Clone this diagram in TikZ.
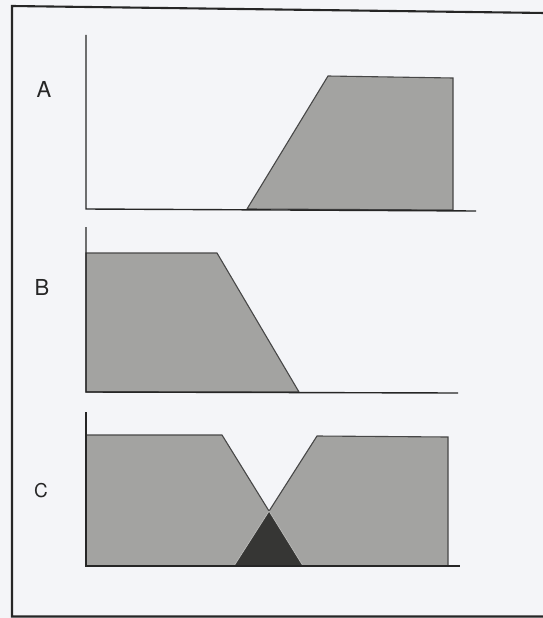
\documentclass[tikz,border=0pt]{standalone}
\usepackage{fontspec}
\setmainfont{TeX Gyre Heros}
\definecolor{paper}{HTML}{F4F5F8}
\definecolor{fillgray}{HTML}{A3A3A1}
\definecolor{darkfill}{HTML}{363634}
\definecolor{ink}{HTML}{262626}
\tikzset{
  frameline/.style={draw=ink, line width=2.1pt},
  axisline/.style={draw=ink, line width=1.4pt},
  outline/.style={draw=ink!85, line width=1.1pt, line join=miter},
  grayshape/.style={fill=fillgray, outline},
  darkshape/.style={fill=darkfill},
  panellabel/.style={inner sep=0pt, text=ink, font=\fontsize{22}{22}\selectfont},
}
\begin{document}
\begin{tikzpicture}[x=1pt, y=-1pt]
\fill[paper] (0,0) rectangle (543,618);
\useasboundingbox (0,0) rectangle (543,618);
\clip (0,0) rectangle (543,618);

% outer frame (right side runs off the page)
\draw[frameline] (545,13) -- (12,6) -- (12,616.5) -- (545,616.5);

% ---------- Panel A ----------
\node[panellabel] (labA) at (44,89) {A};
\draw[grayshape] (247,209) -- (328,76) -- (453,78) -- (453,210) -- cycle;
\coordinate (aTop) at (86,35);
\coordinate (aOrig) at (86,209);
\coordinate (aEnd) at (476,211);
\draw[axisline] (aTop) -- (aOrig) -- (aEnd);

% ---------- Panel B ----------
\node[panellabel] (labB) at (42,287) {B};
\draw[grayshape] (86,253) -- (217,253) -- (299,392) -- (86,392) -- cycle;
\coordinate (bTop) at (86,227);
\coordinate (bOrig) at (86,392);
\coordinate (bEnd) at (458,393);
\draw[axisline] (bTop) -- (bOrig) -- (bEnd);

% ---------- Panel C ----------
\node[panellabel, font=\fontsize{19}{19}\selectfont] (labC) at (41,491) {C};
\coordinate (cL1) at (222,435);
\coordinate (cL2) at (303,566);
\coordinate (cR1) at (234,566);
\coordinate (cR2) at (317,436);
\coordinate (cX) at (intersection of cL1--cL2 and cR1--cR2);
\fill[fillgray] (86,435) -- (cL1) -- (cL2) -- (86,566) -- cycle;
\fill[fillgray] (cR1) -- (cR2) -- (448,437) -- (448,566) -- cycle;
\fill[darkshape] (cR1) -- (cX) -- (cL2) -- cycle;
\draw[outline] (86,435) -- (cL1) -- (cX);
\draw[outline] (cX) -- (cR2) -- (448,437) -- (448,566);
\draw[draw=fillgray!70, line width=0.7pt] (cR1) -- (cX) -- (cL2);
\coordinate (cTop) at (86,412);
\coordinate (cOrig) at (86,566);
\coordinate (cEnd) at (460,566);
\draw[axisline] (cTop) -- (cOrig) -- (cEnd);
\end{tikzpicture}
\end{document}
